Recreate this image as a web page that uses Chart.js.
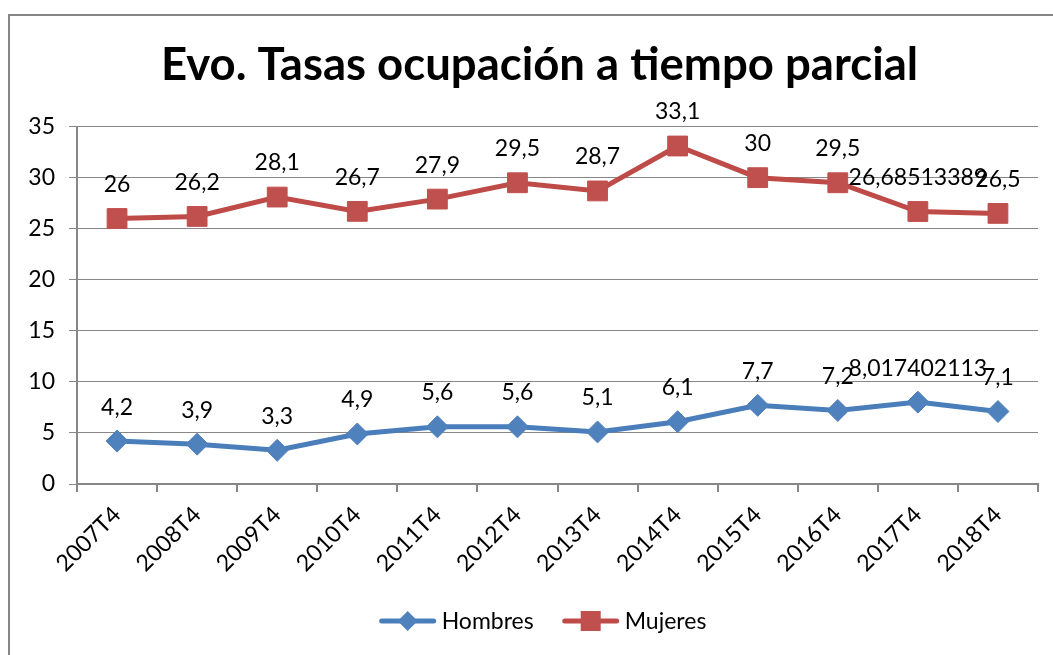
<!DOCTYPE html>
<html>
<head>
<meta charset="utf-8">
<script src="https://cdn.jsdelivr.net/npm/chart.js@4"></script>
<style>
  html, body { margin: 0; padding: 0; background: #fff; }
  #wrap { position: relative; width: 1053px; height: 655px; overflow: hidden; }
  #frame { position: absolute; left: 8px; top: 14px; width: 1100px; height: 700px; border: 2px solid #878787; box-sizing: border-box; }
  canvas { position: absolute; left: 0; top: 0; }
</style>
</head>
<body>
<div id="wrap">
  <div id="frame"></div>
  <canvas id="chart" width="1053" height="655"></canvas>
</div>
<script>
const categories = ['2007T4', '2008T4', '2009T4', '2010T4', '2011T4', '2012T4', '2013T4', '2014T4', '2015T4', '2016T4', '2017T4', '2018T4'];
const hombres = [4.2, 3.9, 3.3, 4.9, 5.6, 5.6, 5.1, 6.1, 7.7, 7.2, 8.017402113, 7.1];
const mujeres = [26, 26.2, 28.1, 26.7, 27.9, 29.5, 28.7, 33.1, 30, 29.5, 26.68513389, 26.5];
const yTicks = [0, 5, 10, 15, 20, 25, 30, 35];

const FONT = 'Lato';
const BLUE = '#4a7ebb';
const RED = '#be4b48';

// data labels above each point, comma decimals like the original
const pointLabels = {
  id: 'pointLabels',
  afterLayout(chart) {
    // title in the original is centred on the framed chart, not the canvas
    if (chart.titleBlock) chart.titleBlock.left = 38;
  },
  afterDatasetsDraw(chart) {
    const { ctx } = chart;
    ctx.save();
    ctx.font = `23px ${FONT}`;
    ctx.fillStyle = '#000';
    ctx.textAlign = 'center';
    ctx.textBaseline = 'middle';
    chart.data.datasets.forEach((ds, i) => {
      chart.getDatasetMeta(i).data.forEach((pt, j) => {
        ctx.fillText(String(ds.data[j]).replace('.', ','), pt.x, pt.y - 34);
      });
    });
    ctx.restore();
  },
};

// legend with line + marker, like Excel's
const lineLegend = {
  id: 'lineLegend',
  afterDraw(chart) {
    const { ctx } = chart;
    const y = 621, lineLen = 56, gapText = 6, gapItem = 29;
    ctx.save();
    ctx.font = `23px ${FONT}`;
    ctx.textBaseline = 'middle';
    const items = chart.data.datasets.map(ds => ({ ds, w: ctx.measureText(ds.label).width }));
    const total = items.reduce((s, it) => s + lineLen + gapText + it.w, 0) + gapItem * (items.length - 1);
    let x = 543 - total / 2;
    items.forEach(({ ds, w }) => {
      ctx.strokeStyle = ds.borderColor;
      ctx.lineWidth = 5;
      ctx.lineCap = 'round';
      ctx.beginPath();
      ctx.moveTo(x + 2, y);
      ctx.lineTo(x + lineLen - 2, y);
      ctx.stroke();
      const cx = x + lineLen / 2;
      ctx.fillStyle = ds.pointBackgroundColor;
      ctx.beginPath();
      if (ds.pointStyle === 'rectRot') {
        ctx.moveTo(cx - 10, y); ctx.lineTo(cx, y - 10); ctx.lineTo(cx + 10, y); ctx.lineTo(cx, y + 10);
      } else {
        ctx.rect(cx - 10, y - 10, 20, 20);
      }
      ctx.closePath();
      ctx.fill();
      ctx.fillStyle = '#000';
      ctx.textAlign = 'left';
      ctx.fillText(ds.label, x + lineLen + gapText, y + 1);
      x += lineLen + gapText + w + gapItem;
    });
    ctx.restore();
  },
};

new Chart(document.getElementById('chart'), {
  type: 'line',
  data: {
    labels: categories,
    datasets: [
      {
        label: 'Hombres',
        data: hombres,
        borderColor: BLUE,
        backgroundColor: '#4f81bd',
        pointBackgroundColor: '#4f81bd',
        pointBorderColor: '#4f81bd',
        borderWidth: 5,
        pointStyle: 'rectRot',
        pointRadius: 11,
        pointBorderWidth: 1,
        tension: 0,
      },
      {
        label: 'Mujeres',
        data: mujeres,
        borderColor: RED,
        backgroundColor: '#c0504d',
        pointBackgroundColor: '#c0504d',
        pointBorderColor: '#c0504d',
        borderWidth: 5,
        pointStyle: 'rect',
        pointRadius: 14,
        pointBorderWidth: 1,
        tension: 0,
      },
    ],
  },
  options: {
    responsive: false,
    animation: false,
    layout: { padding: { left: 0, right: 12, top: 0, bottom: 0 } },
    plugins: {
      legend: { display: false },
      tooltip: { enabled: false },
      title: {
        display: true,
        text: 'Evo. Tasas ocupación a tiempo parcial',
        color: '#000',
        font: { family: FONT, size: 45.5, weight: 'bold' },
        padding: { top: 38, bottom: 34 },
      },
    },
    scales: {
      x: {
        offset: true,
        grid: { display: true, drawOnChartArea: false, offset: true, tickLength: 8, color: '#878787', lineWidth: 2 },
        border: { color: '#878787', width: 2 },
        ticks: { color: '#000', font: { family: FONT, size: 23 }, minRotation: 45, maxRotation: 45, padding: 9 },
        afterFit(scale) { scale.height = 171; },
      },
      y: {
        min: 0,
        max: 35,
        afterBuildTicks(scale) { scale.ticks = yTicks.map(v => ({ value: v })); },
        grid: { color: '#878787', lineWidth: 1, tickLength: 8 },
        border: { color: '#878787', width: 2 },
        ticks: { color: '#000', font: { family: FONT, size: 23 }, padding: 14 },
        afterFit(scale) { scale.width = 77; },
      },
    },
  },
  plugins: [pointLabels, lineLegend],
});
</script>
</body>
</html>
